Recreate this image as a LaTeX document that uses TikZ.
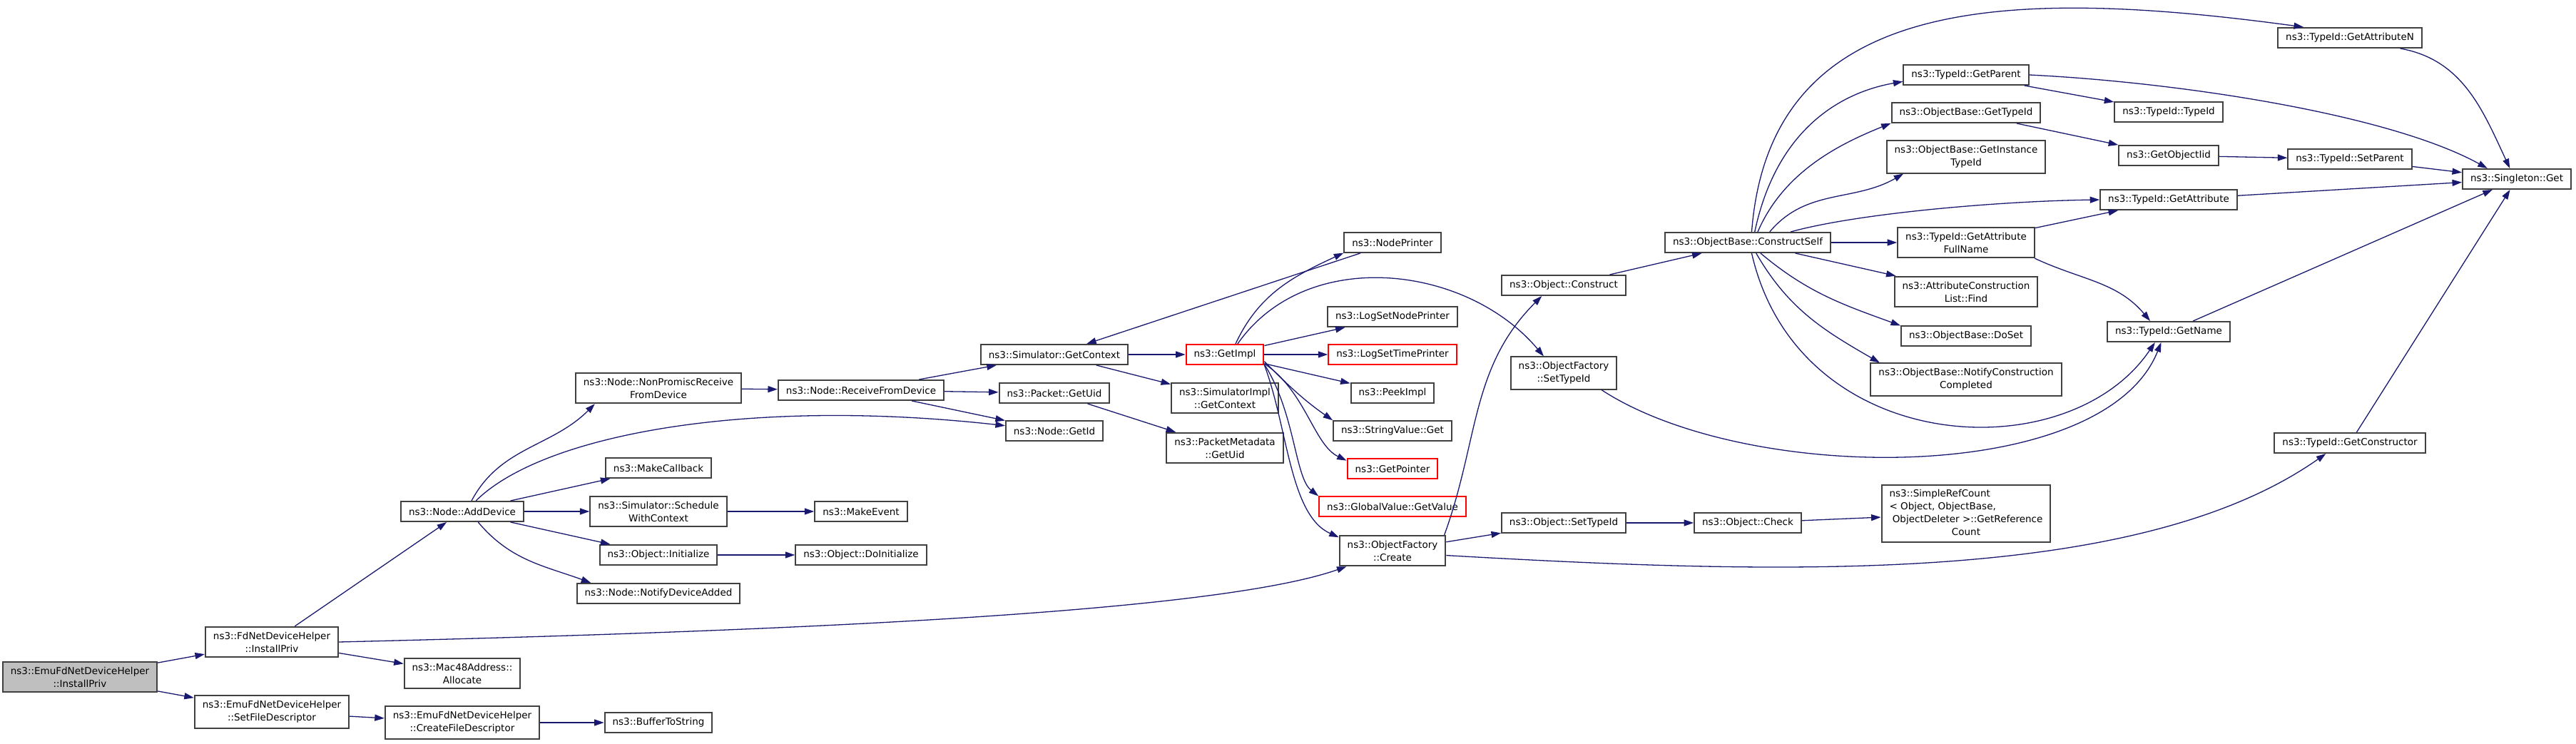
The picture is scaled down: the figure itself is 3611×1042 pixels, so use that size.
\documentclass[tikz,border=0pt]{standalone}
\usepackage{fontspec}
\setmainfont{DejaVu Sans}
\usetikzlibrary{arrows.meta}
\definecolor{edgeblue}{HTML}{191970}
\definecolor{boxgrey}{HTML}{404040}
\definecolor{rootgrey}{HTML}{BFBFBF}

\begin{document}
\begin{tikzpicture}[x=1pt, y=1pt, >={Triangle[length=13.5pt,width=9pt]},
    func/.style={draw=boxgrey, line width=2, fill=white, inner xsep=11, inner ysep=7,
        minimum height=28, align=center, font=\fontsize{13.5}{18}\selectfont},
    trunc/.style={func, draw=red},
    call/.style={->, draw=edgeblue, line width=1.3}]
    \useasboundingbox[fill=white] (0,0) rectangle (3611,1042);

    \node[func, fill=rootgrey] (root) at (112,93) {ns3::EmuFdNetDeviceHelper\\::InstallPriv};
    \node[func] (fdinst) at (381,142) {ns3::FdNetDeviceHelper\\::InstallPriv};
    \node[func] (setfd) at (381,44) {ns3::EmuFdNetDeviceHelper\\::SetFileDescriptor};
    \node[func] (adddev) at (648,325) {ns3::Node::AddDevice};
    \node[func] (mac48) at (648,98) {ns3::Mac48Address::\\Allocate};
    \node[func] (createfd) at (648,29) {ns3::EmuFdNetDeviceHelper\\::CreateFileDescriptor};
    \node[func] (nonpromisc) at (923,498) {ns3::Node::NonPromiscReceive\\FromDevice};
    \node[func] (makecb) at (923,386) {ns3::MakeCallback};
    \node[func] (schedule) at (923,325) {ns3::Simulator::Schedule\\WithContext};
    \node[func] (objinit) at (923,264) {ns3::Object::Initialize};
    \node[func] (notify) at (923,210) {ns3::Node::NotifyDeviceAdded};
    \node[func] (buftostr) at (923,29) {ns3::BufferToString};
    \node[func] (recv) at (1207,495) {ns3::Node::ReceiveFromDevice};
    \node[func] (makeevent) at (1207,325) {ns3::MakeEvent};
    \node[func] (doinit) at (1207,264) {ns3::Object::DoInitialize};
    \node[func] (simgetctx) at (1478,545) {ns3::Simulator::GetContext};
    \node[func] (pktgetuid) at (1478,491) {ns3::Packet::GetUid};
    \node[func] (nodegetid) at (1478,438) {ns3::Node::GetId};
    \node[trunc] (getimpl) at (1717,545) {ns3::GetImpl};
    \node[func] (simimplctx) at (1717,484) {ns3::SimulatorImpl\\::GetContext};
    \node[func] (pmgetuid) at (1717,414) {ns3::PacketMetadata\\::GetUid};
    \node[func] (nodeprinter) at (1952,702) {ns3::NodePrinter};
    \node[func] (logsetnode) at (1952,598) {ns3::LogSetNodePrinter};
    \node[trunc] (logsettime) at (1952,545) {ns3::LogSetTimePrinter};
    \node[func] (peekimpl) at (1952,491) {ns3::PeekImpl};
    \node[func] (strget) at (1952,438) {ns3::StringValue::Get};
    \node[trunc] (getpointer) at (1952,385) {ns3::GetPointer};
    \node[trunc] (gvgetvalue) at (1952,332) {ns3::GlobalValue::GetValue};
    \node[func] (ofcreate) at (1952,270) {ns3::ObjectFactory\\::Create};
    \node[func] (objconstruct) at (2192,642) {ns3::Object::Construct};
    \node[func] (ofsettypeid) at (2192,519) {ns3::ObjectFactory\\::SetTypeId};
    \node[func] (objsettypeid) at (2192,309) {ns3::Object::SetTypeId};
    \node[func] (constructself) at (2450,702) {ns3::ObjectBase::ConstructSelf};
    \node[func] (objcheck) at (2450,309) {ns3::Object::Check};
    \node[func] (getparent) at (2756,937) {ns3::TypeId::GetParent};
    \node[func] (obgettypeid) at (2756,884) {ns3::ObjectBase::GetTypeId};
    \node[func] (getinsttypeid) at (2756,822) {ns3::ObjectBase::GetInstance\\TypeId};
    \node[func] (getattrfull) at (2756,702) {ns3::TypeId::GetAttribute\\FullName};
    \node[func] (acfind) at (2756,633) {ns3::AttributeConstruction\\List::Find};
    \node[func] (doset) at (2756,571) {ns3::ObjectBase::DoSet};
    \node[func] (notifycc) at (2756,510) {ns3::ObjectBase::NotifyConstruction\\Completed};
    \node[func, inner ysep=4] (refcount) at (2756,322) {\begin{tabular}{@{}l@{}}ns3::SimpleRefCount\\< Object, ObjectBase,\\\ ObjectDeleter >::GetReference\\\multicolumn{1}{@{}c@{}}{Count}\end{tabular}};
    \node[func] (typeidctor) at (3040,885) {ns3::TypeId::TypeId};
    \node[func] (getobjiid) at (3040,824) {ns3::GetObjectIid};
    \node[func] (getattribute) at (3040,762) {ns3::TypeId::GetAttribute};
    \node[func] (getname) at (3040,577) {ns3::TypeId::GetName};
    \node[func] (getattrn) at (3294,989) {ns3::TypeId::GetAttributeN};
    \node[func] (setparent) at (3294,819) {ns3::TypeId::SetParent};
    \node[func] (getconstructor) at (3294,421) {ns3::TypeId::GetConstructor};
    \node[func] (singleton) at (3528,791) {ns3::Singleton::Get};

    \draw[call] (root) -- (fdinst);
    \draw[call] (root) -- (setfd);
    \draw[call] (fdinst) -- (adddev);
    \draw[call] (fdinst) -- (mac48);
    \draw[call] (fdinst.east) .. controls +(624,15) and +(-185,-65) .. (ofcreate.199);
    \draw[call] (setfd) -- (createfd);
    \draw[call] (createfd) -- (buftostr);
    \draw[call] (adddev.49) to[out=62,in=225] (nonpromisc.194);
    \draw[call] (adddev.38) .. controls +(94,93) and +(-360,40) .. (nodegetid.174);
    \draw[call] (adddev) -- (makecb);
    \draw[call] (adddev) -- (schedule);
    \draw[call] (adddev) -- (objinit);
    \draw[call] (adddev.-34) to[out=-50,in=160] (notify.171);
    \draw[call] (nonpromisc) -- (recv);
    \draw[call] (recv) -- (simgetctx);
    \draw[call] (recv) -- (pktgetuid);
    \draw[call] (recv) -- (nodegetid);
    \draw[call] (schedule) -- (makeevent);
    \draw[call] (objinit) -- (doinit);
    \draw[call] (simgetctx) -- (getimpl);
    \draw[call] (simgetctx) -- (simimplctx);
    \draw[call] (pktgetuid) -- (pmgetuid);
    \draw[call] (nodeprinter) -- (simgetctx);
    \draw[call] (getimpl.45) to[out=65,in=205] (nodeprinter.192);
    \draw[call] (getimpl.40) to[out=55,in=130] (ofsettypeid.140);
    \draw[call] (getimpl) -- (logsetnode);
    \draw[call] (getimpl) -- (logsettime);
    \draw[call] (getimpl) -- (peekimpl);
    \draw[call] (getimpl.-10) to[out=-45,in=145] (strget.170);
    \draw[call] (getimpl.-13) .. controls +(58,-39) and +(-46,22) .. (getpointer.170);
    \draw[call] (getimpl.-14) .. controls +(43,-68) and +(-33,26) .. (gvgetvalue.172);
    \draw[call] (getimpl.-15) .. controls +(33,-88) and +(-69,31) .. (ofcreate.166);
    \draw[call] (ofcreate.17) to[out=70,in=225] (objconstruct.206);
    \draw[call] (ofcreate) -- (objsettypeid);
    \draw[call] (ofcreate.-5) .. controls +(472,-27) and +(-263,-185) .. (getconstructor.204);
    \draw[call] (objconstruct) -- (constructself);
    \draw[call] (ofsettypeid.-24) .. controls +(205,-134) and +(-80,-201) .. (getname.235);
    \draw[call] (objsettypeid) -- (objcheck);
    \draw[call] (objcheck) -- (refcount);
    \draw[call] (constructself.70) .. controls +(25,326) and +(-433,59) .. (getattrn.167);
    \draw[call] (constructself.57) .. controls +(31,146) and +(-85,-15) .. (getparent.186);
    \draw[call] (constructself.47) .. controls +(37,86) and +(-69,-28) .. (obgettypeid.188);
    \draw[call] (constructself.26) to[out=50,in=210] (getinsttypeid.195);
    \draw[call] (constructself.14) .. controls +(94,26) and +(-141,-2) .. (getattribute.west);
    \draw[call] (constructself) -- (getattrfull);
    \draw[call] (constructself) -- (acfind);
    \draw[call] (constructself.-40) to[out=-40,in=160] (doset.171);
    \draw[call] (constructself.-52) to[out=-60,in=150] (notifycc.169);
    \draw[call] (constructself.-70) .. controls +(65,-286) and +(-122,-181) .. (getname.218);
    \draw[call] (getparent.east) .. controls +(205,-10) and +(-140,77) .. (singleton.160);
    \draw[call] (getparent) -- (typeidctor);
    \draw[call] (obgettypeid) -- (getobjiid);
    \draw[call] (getobjiid) -- (setparent);
    \draw[call] (setparent) -- (singleton);
    \draw[call] (getattribute) -- (singleton);
    \draw[call] (getattrfull) -- (getattribute);
    \draw[call] (getattrfull.-13) to[out=-25,in=130] (getname.150);
    \draw[call] (getname) -- (singleton);
    \draw[call] (getattrn.-12) to[out=-10,in=115] (singleton.123);
    \draw[call] (getconstructor) -- (singleton);
\end{tikzpicture}
\end{document}
